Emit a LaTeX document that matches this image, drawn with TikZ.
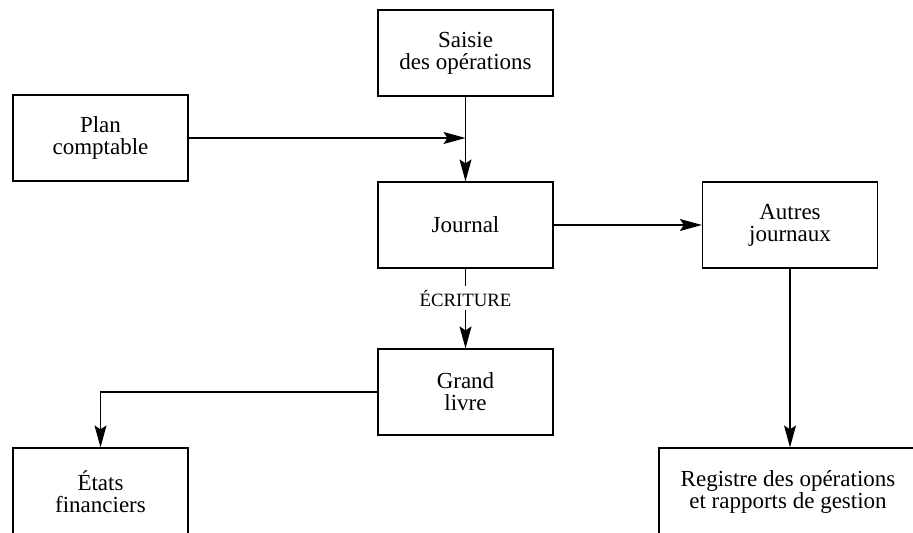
\documentclass[tikz,border=0pt]{standalone}
\usepackage{fontspec}
\setmainfont{Liberation Serif}
\usetikzlibrary{arrows.meta}

\begin{document}
\begin{tikzpicture}[x=0.5pt,y=-0.5pt,
	box/.style={draw,line width=0.6pt,rectangle,align=center,
		minimum width=87.5pt,minimum height=43pt,
		font=\fontsize{11.5}{11}\selectfont},
	fleche/.style={line width=0.6pt,-{Stealth[length=11pt,width=6pt,inset=2pt]}}]
	\useasboundingbox (0,0) rectangle (913,533);
	\clip (0,0) rectangle (913,533);
	\node[box] (saisie) at (465.5,53) {Saisie\\des opérations};
	\node[box] (plan) at (100.5,138) {Plan\\comptable};
	\node[box] (journal) at (465.5,225) {Journal};
	\node[box] (autres) at (790,225) {Autres\\journaux};
	\node[box] (grand) at (465.5,392) {Grand\\livre};
	\node[box,minimum height=44pt] (etats) at (100.5,492) {États\\financiers};
	\node[box,minimum width=129pt,minimum height=44pt] (registre) at (788,492) {Registre des opérations\\et rapports de gestion};
	\coordinate (entree) at (saisie.south |- plan.east);
	\draw[fleche] (plan.east) -- (entree);
	\draw[fleche] (saisie) -- (journal);
	\draw[fleche] (journal) -- (autres);
	\draw[fleche] (journal) -- node[pos=0.37,fill=white,inner sep=2pt,
		font=\fontsize{9.4}{10}\selectfont] (ecriture) {ÉCRITURE} (grand);
	\draw[fleche] (grand.west) -| (etats.north);
	\draw[fleche] (autres) -- (autres |- registre.north);
\end{tikzpicture}
\end{document}
